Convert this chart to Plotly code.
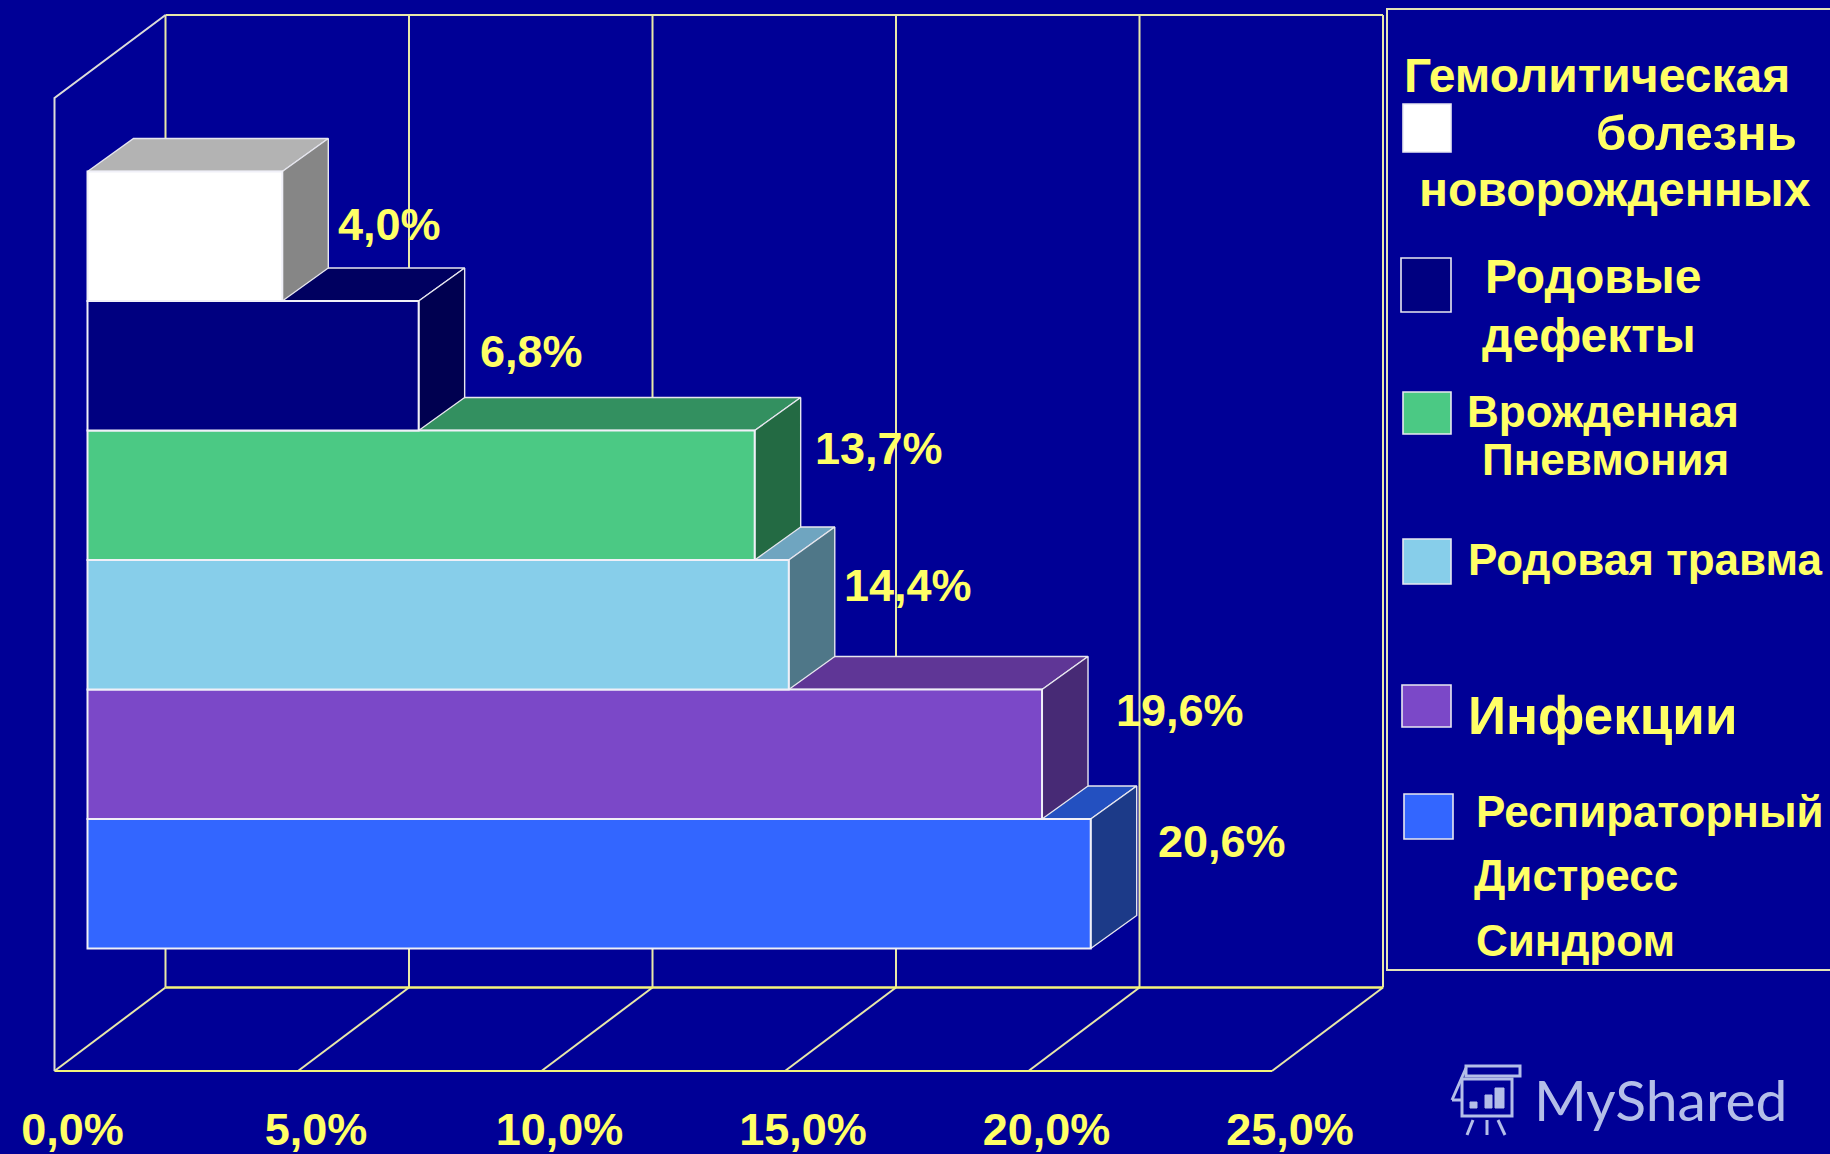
import plotly.graph_objects as go

W, H = 1830, 1154
# --- data ---
categories = ["Респираторный Дистресс Синдром", "Инфекции", "Родовая травма",
              "Врожденная Пневмония", "Родовые дефекты", "Гемолитическая болезнь новорожденных"]
values = [20.6, 19.6, 14.4, 13.7, 6.8, 4.0]
value_labels = ["20,6%", "19,6%", "14,4%", "13,7%", "6,8%", "4,0%"]
tick_vals = [0, 5, 10, 15, 20, 25]
tick_text = ["0,0%", "5,0%", "10,0%", "15,0%", "20,0%", "25,0%"]
front_colors = ["#3366FF", "#7B48C8", "#87CEEA", "#4BC984", "#000080", "#FFFFFF"]
side_colors = ["#1C3A88", "#472A75", "#4F7788", "#236A43", "#000050", "#868686"]
top_colors = ["#2350C0", "#5F3696", "#6FA5C0", "#339060", "#000060", "#B3B3B3"]

# --- geometry of the oblique projection ---
BG = "#000096"
YEL = "#FFFF66"
LINE = "#E8E8A8"
UX, UY = 48.7, 129.5          # pixels per percent / per category
X0PX, Y0PX = 54.5, 883.75     # pixel of x=0 and of first category centre
xr = [-X0PX / UX, (W - X0PX) / UX]
yr = [(Y0PX - H) / UY, Y0PX / UY]
BASE = 33 / UX
DX, DY = 46 / UX, 33 / UY
WX, WY = 111 / UX, 83.5 / UY
FLOOR = (Y0PX - 1071) / UY
TOP = (Y0PX - 15) / UY
LEFT_TOP = (Y0PX - 98) / UY

fig = go.Figure()


def line(xs, ys, color=LINE, width=2):
    fig.add_trace(go.Scatter(x=xs, y=ys, mode="lines", showlegend=False, hoverinfo="skip",
                             line=dict(color=color, width=width)))


# back wall, floor, side wall
for v in tick_vals:
    line([v + WX, v + WX], [FLOOR + WY, TOP])
    line([v, v + WX], [FLOOR, FLOOR + WY])
line([0 + WX, 25 + WX], [TOP, TOP])
line([0 + WX, 25 + WX], [FLOOR + WY, FLOOR + WY], "#F4F47A", 2.5)
line([0, 25], [FLOOR, FLOOR], "#F4F47A", 2)
line([0, 0, WX], [FLOOR, LEFT_TOP, TOP], "#DCDCD8")

# top and side faces, upper bars over lower ones
for i in range(len(values)):
    e = BASE + values[i]
    fig.add_trace(go.Scatter(x=[BASE, e, e + DX, BASE + DX, BASE], y=[i + .5, i + .5, i + .5 + DY, i + .5 + DY, i + .5],
                             fill="toself", fillcolor=top_colors[i], mode="lines", showlegend=False, hoverinfo="skip",
                             line=dict(color="#E6E6EE", width=1.4)))
    fig.add_trace(go.Scatter(x=[e, e + DX, e + DX, e, e], y=[i - .5, i - .5 + DY, i + .5 + DY, i + .5, i - .5],
                             fill="toself", fillcolor=side_colors[i], mode="lines", showlegend=False, hoverinfo="skip",
                             line=dict(color="#E6E6EE", width=1.4)))

# front faces on an overlaid pair of axes, above the depth faces
fig.add_trace(go.Bar(y=list(range(len(values))), x=values, base=BASE, width=1, orientation="h",
                     marker=dict(color=front_colors, line=dict(color="#F0F0F8", width=2)),
                     xaxis="x2", yaxis="y2", showlegend=False, hovertext=categories, hoverinfo="text+x"))

# value labels
label_xshift = [65, 72, 53, 58, 59, 54]
label_yshift = [42, 44, 39, 47, 14, 12]
for i, t in enumerate(value_labels):
    fig.add_annotation(x=BASE + values[i], y=i, xref="x2", yref="y2", text=t, showarrow=False, xanchor="left",
                       xshift=label_xshift[i], yshift=label_yshift[i], font=dict(size=45, color=YEL, weight=700))


def px(x):
    return x / W


def py(y):
    return 1 - y / H


def pshape(kind, x0, y0, x1, y1, **kw):
    return dict(type=kind, xref="paper", yref="paper", x0=px(x0), x1=px(x1), y0=py(y0), y1=py(y1), **kw)


# legend box
shapes = [pshape("rect", 1387, 9, 1840, 970, line=dict(color="#E4E4B8", width=2))]
swatch_boxes = [(1404, 794, 1453, 839), (1402, 685, 1451, 727), (1403, 539, 1451, 584),
                (1403, 392, 1451, 434), (1401, 258, 1451, 312), (1403, 104, 1451, 152)]
for c, b in zip(front_colors, swatch_boxes):
    shapes.append(pshape("rect", b[0], b[1], b[2], b[3], fillcolor=c, line=dict(color="#E8E8F0", width=1.6)))

# watermark icon
WM = "#B4BEE8"
thin = dict(color=WM, width=3)
shapes.append(pshape("rect", 1462, 1079, 1512, 1116, line=thin))
shapes.append(pshape("rect", 1466, 1066, 1520, 1076, line=thin))
shapes.append(pshape("line", 1466, 1068, 1452, 1100, line=thin))
shapes.append(pshape("line", 1452, 1100, 1462, 1100, line=thin))
for b in [(1470, 1102, 1477, 1108), (1485, 1095, 1492, 1108), (1495, 1088, 1504, 1108)]:
    shapes.append(pshape("rect", b[0], b[1], b[2], b[3], fillcolor=WM, line=dict(color=WM, width=1)))
for b in [(1473, 1120, 1467, 1135), (1487, 1120, 1487, 1135), (1498, 1120, 1505, 1135)]:
    shapes.append(pshape("line", b[0], b[1], b[2], b[3], line=thin))

# legend texts: text, left pixel, centre pixel, size
legend_text = [("Гемолитическая", 1404, 75, 48), ("болезнь", 1596, 133, 49), ("новорожденных", 1419, 190, 48),
               ("Родовые", 1485, 277, 48), ("дефекты", 1482, 335, 48), ("Врожденная", 1467, 411, 44),
               ("Пневмония", 1482, 460, 44), ("Родовая травма", 1468, 559, 44), ("Инфекции", 1468, 715, 53),
               ("Респираторный", 1476, 811, 44), ("Дистресс", 1474, 875, 44), ("Синдром", 1476, 940, 44)]
for t, x, y, s in legend_text:
    fig.add_annotation(xref="paper", yref="paper", x=px(x), y=py(y), text=t, showarrow=False, xanchor="left",
                       yanchor="middle", xshift=-2, font=dict(size=s, color=YEL, weight=700))
fig.add_annotation(xref="paper", yref="paper", x=px(1532), y=py(1099), text="MyShared", showarrow=False,
                   xanchor="left", yanchor="middle", font=dict(size=57, color=WM, family="Lato"))

fig.update_layout(
    width=W, height=H, margin=dict(l=0, r=0, t=0, b=0, pad=0), paper_bgcolor=BG, plot_bgcolor=BG,
    font=dict(family="Liberation Sans", color=YEL), shapes=shapes, showlegend=False, barmode="overlay",
    xaxis=dict(range=xr, anchor="free", position=(H - 1071) / H, tickmode="array", tickvals=tick_vals,
               ticktext=tick_text, showgrid=False, zeroline=False, showline=False, ticks="",
               tickfont=dict(size=45, color=YEL, weight=700), ticklabelshift=18, ticklabelstandoff=28, automargin=False),
    yaxis=dict(range=yr, visible=False),
    xaxis2=dict(range=xr, overlaying="x", visible=False),
    yaxis2=dict(range=yr, overlaying="y", visible=False),
)
fig.write_html("out.html", config=dict(displayModeBar=False),
               post_script="document.body.style.margin='0';document.body.style.overflow='hidden';")
